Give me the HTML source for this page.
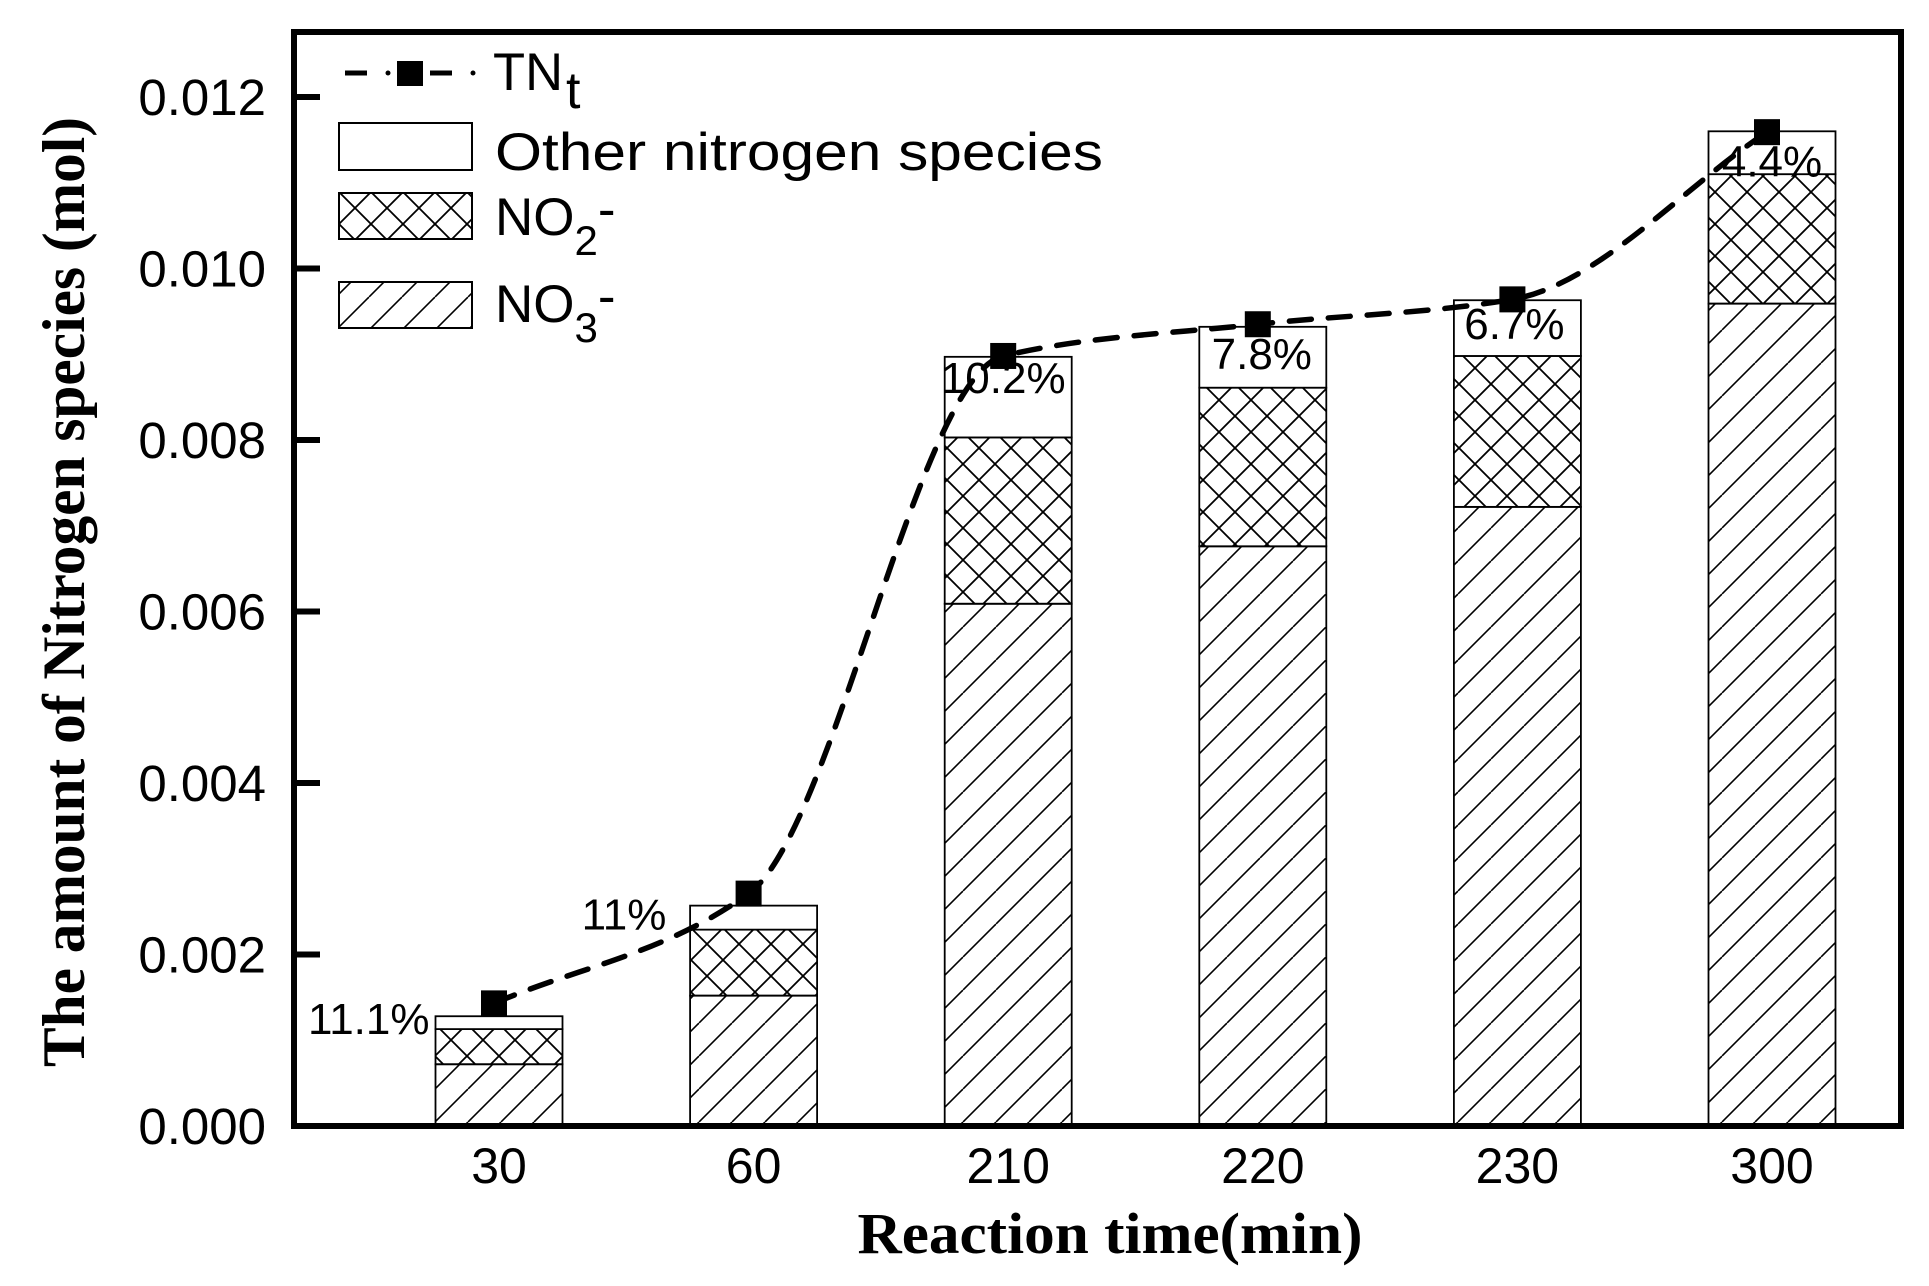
<!DOCTYPE html>
<html><head><meta charset="utf-8"><style>
html,body{margin:0;padding:0;background:#fff;}
svg{display:block;}
text{font-family:"Liberation Sans",Arial,sans-serif;fill:#000;}
.serif{font-family:"Liberation Serif","Times New Roman",serif;font-weight:bold;}
</style></head><body>
<svg id="chart" width="1929" height="1286" viewBox="0 0 1929 1286" xmlns="http://www.w3.org/2000/svg">
<defs>
<pattern id="diag" patternUnits="userSpaceOnUse" width="33" height="33" patternTransform="translate(435,0)">
<line x1="0" y1="33" x2="33" y2="0" stroke="#000" stroke-width="1.6"/>
<line x1="-33" y1="33" x2="0" y2="0" stroke="#000" stroke-width="1.6"/>
<line x1="33" y1="33" x2="66" y2="0" stroke="#000" stroke-width="1.6"/>
</pattern>
<pattern id="cross" patternUnits="userSpaceOnUse" width="32" height="32" patternTransform="translate(435,0)">
<line x1="0" y1="0" x2="32" y2="32" stroke="#000" stroke-width="1.8"/>
<line x1="0" y1="32" x2="32" y2="0" stroke="#000" stroke-width="1.8"/>
</pattern>
</defs>
<g id="bars"></g>
<path id="tnline" fill="none" stroke="#000" stroke-width="5.5" stroke-dasharray="22 17" stroke-linecap="round"/>
<g id="markers"></g>
<g id="labels"></g>
<rect x="294" y="32" width="1607" height="1094" fill="none" stroke="#000" stroke-width="6"/>
<g id="yaxis"></g>
<g id="xaxis"></g>
<text class="serif" font-size="60" transform="translate(84,592) rotate(-90)" text-anchor="middle" textLength="950" lengthAdjust="spacingAndGlyphs">The amount of Nitrogen species (mol)</text>
<text class="serif" font-size="58" x="1110" y="1253" text-anchor="middle" textLength="505" lengthAdjust="spacingAndGlyphs">Reaction time(min)</text>
<g>
<g>
<line x1="345" y1="73" x2="367" y2="73" stroke="#000" stroke-width="5"/>
<circle cx="388" cy="73" r="2.5" fill="#000"/>
<rect x="397" y="61" width="26" height="25" fill="#000"/>
<line x1="430" y1="73" x2="452" y2="73" stroke="#000" stroke-width="5"/>
<circle cx="473" cy="73" r="2.5" fill="#000"/>
<text x="493" y="90" font-size="53" textLength="70" lengthAdjust="spacingAndGlyphs">TN</text>
<text x="566" y="108" font-size="52">t</text>
</g>
<g>
<rect x="339" y="123" width="133" height="47" fill="#fff" stroke="#000" stroke-width="2"/>
<text x="495" y="170" font-size="53" textLength="608" lengthAdjust="spacingAndGlyphs">Other nitrogen species</text>
</g>
<g>
<rect x="339" y="193" width="133" height="46" fill="url(#cross)" stroke="#000" stroke-width="2"/>
<text x="495" y="235" font-size="53">NO<tspan font-size="42" dy="20">2</tspan><tspan dy="-28">-</tspan></text>
</g>
<g>
<rect x="339" y="282" width="133" height="46" fill="url(#diag)" stroke="#000" stroke-width="2"/>
<text x="495" y="322" font-size="53">NO<tspan font-size="42" dy="20">3</tspan><tspan dy="-28">-</tspan></text>
</g>
</g>
</svg>
<script>
const categories = ["30","60","210","220","230","300"];
const no3Values = [0.00072,0.00152,0.00609,0.00676,0.00722,0.00959];
const no2Values = [0.00041,0.00077,0.00194,0.00185,0.00176,0.00151];
const otherValues = [0.00015,0.00028,0.00094,0.00071,0.00065,0.00050];
const tnValues = [0.00143,0.00271,0.00898,0.00935,0.00964,0.01159];
const pctLabels = ["11.1%","11%","10.2%","7.8%","6.7%","4.4%"];
const yTicks = [0,0.002,0.004,0.006,0.008,0.010,0.012];
const yTickLabels = ["0.000","0.002","0.004","0.006","0.008","0.010","0.012"];

const NS = "http://www.w3.org/2000/svg";
function y(v){ return 1126 - v*85750; }
function xc(i){ return 499 + i*254.6; }
const BW = 127;
function mk(tag, attrs, parent){ const e=document.createElementNS(NS,tag); for(const k in attrs) e.setAttribute(k,attrs[k]); parent.appendChild(e); return e; }

const bars=document.getElementById('bars');
categories.forEach((c,i)=>{
  const g=mk('g',{},bars);
  
  
  const x0=xc(i)-BW/2;
  const b1=no3Values[i], b2=b1+no2Values[i], b3=b2+otherValues[i];
  const r1=mk('rect',{x:x0,y:y(b1),width:BW,height:y(0)-y(b1),fill:'url(#diag)',stroke:'#000','stroke-width':1.8},g);
  
  
  const r2=mk('rect',{x:x0,y:y(b2),width:BW,height:y(b1)-y(b2),fill:'url(#cross)',stroke:'#000','stroke-width':1.8},g);
  
  
  const r3=mk('rect',{x:x0,y:y(b3),width:BW,height:y(b2)-y(b3),fill:'#fff',stroke:'#000','stroke-width':1.8},g);
  
  
});

// TN line (monotone cubic)
const pts=tnValues.map((v,i)=>[xc(i)-5,y(v)]);
const n=pts.length, sl=[], m=[];
for(let i=0;i<n-1;i++) sl.push((pts[i+1][1]-pts[i][1])/(pts[i+1][0]-pts[i][0]));
m[0]=sl[0]; m[n-1]=sl[n-2];
for(let i=1;i<n-1;i++){ m[i]=(sl[i-1]*sl[i]<=0)?0:2/(1/sl[i-1]+1/sl[i]); }
let d='M'+pts[0][0]+','+pts[0][1];
for(let i=0;i<n-1;i++){
  const h=(pts[i+1][0]-pts[i][0])/3;
  d+=' C'+(pts[i][0]+h)+','+(pts[i][1]+m[i]*h)+' '+(pts[i+1][0]-h)+','+(pts[i+1][1]-m[i+1]*h)+' '+pts[i+1][0]+','+pts[i+1][1];
}
document.getElementById('tnline').setAttribute('d',d);
const markers=document.getElementById('markers');
pts.forEach((p,i)=>{
  const r=mk('rect',{x:p[0]-13,y:p[1]-13,width:26,height:26,fill:'#000'},markers);
  
  
});

// percent labels
const labels=document.getElementById('labels');
const labOff=[[-191,18],[-172,24],[-5,36],[-1,42],[-3,39],[0,45]];
pctLabels.forEach((t,i)=>{
  const top=no3Values[i]+no2Values[i]+otherValues[i];
  const e=mk('text',{x:xc(i)+labOff[i][0],y:y(top)+labOff[i][1],'font-size':44},labels);
  e.setAttribute('text-anchor', i<2?'start':'middle');
  e.textContent=t;
  
  
});

// y axis
const ya=document.getElementById('yaxis');
yTicks.forEach((v,i)=>{
  const l=mk('line',{x1:294,x2:320,y1:y(v),y2:y(v),stroke:'#000','stroke-width':6},ya);
  
  
  const t=mk('text',{x:266,y:y(v)+18,'font-size':51,'text-anchor':'end'},ya);
  t.textContent=yTickLabels[i];
  
  
});
// x axis labels
const xa=document.getElementById('xaxis');
categories.forEach((c,i)=>{
  const t=mk('text',{x:xc(i),y:1183,'font-size':50,'text-anchor':'middle'},xa);
  t.textContent=c;
  
  
});
</script>
</body></html>
